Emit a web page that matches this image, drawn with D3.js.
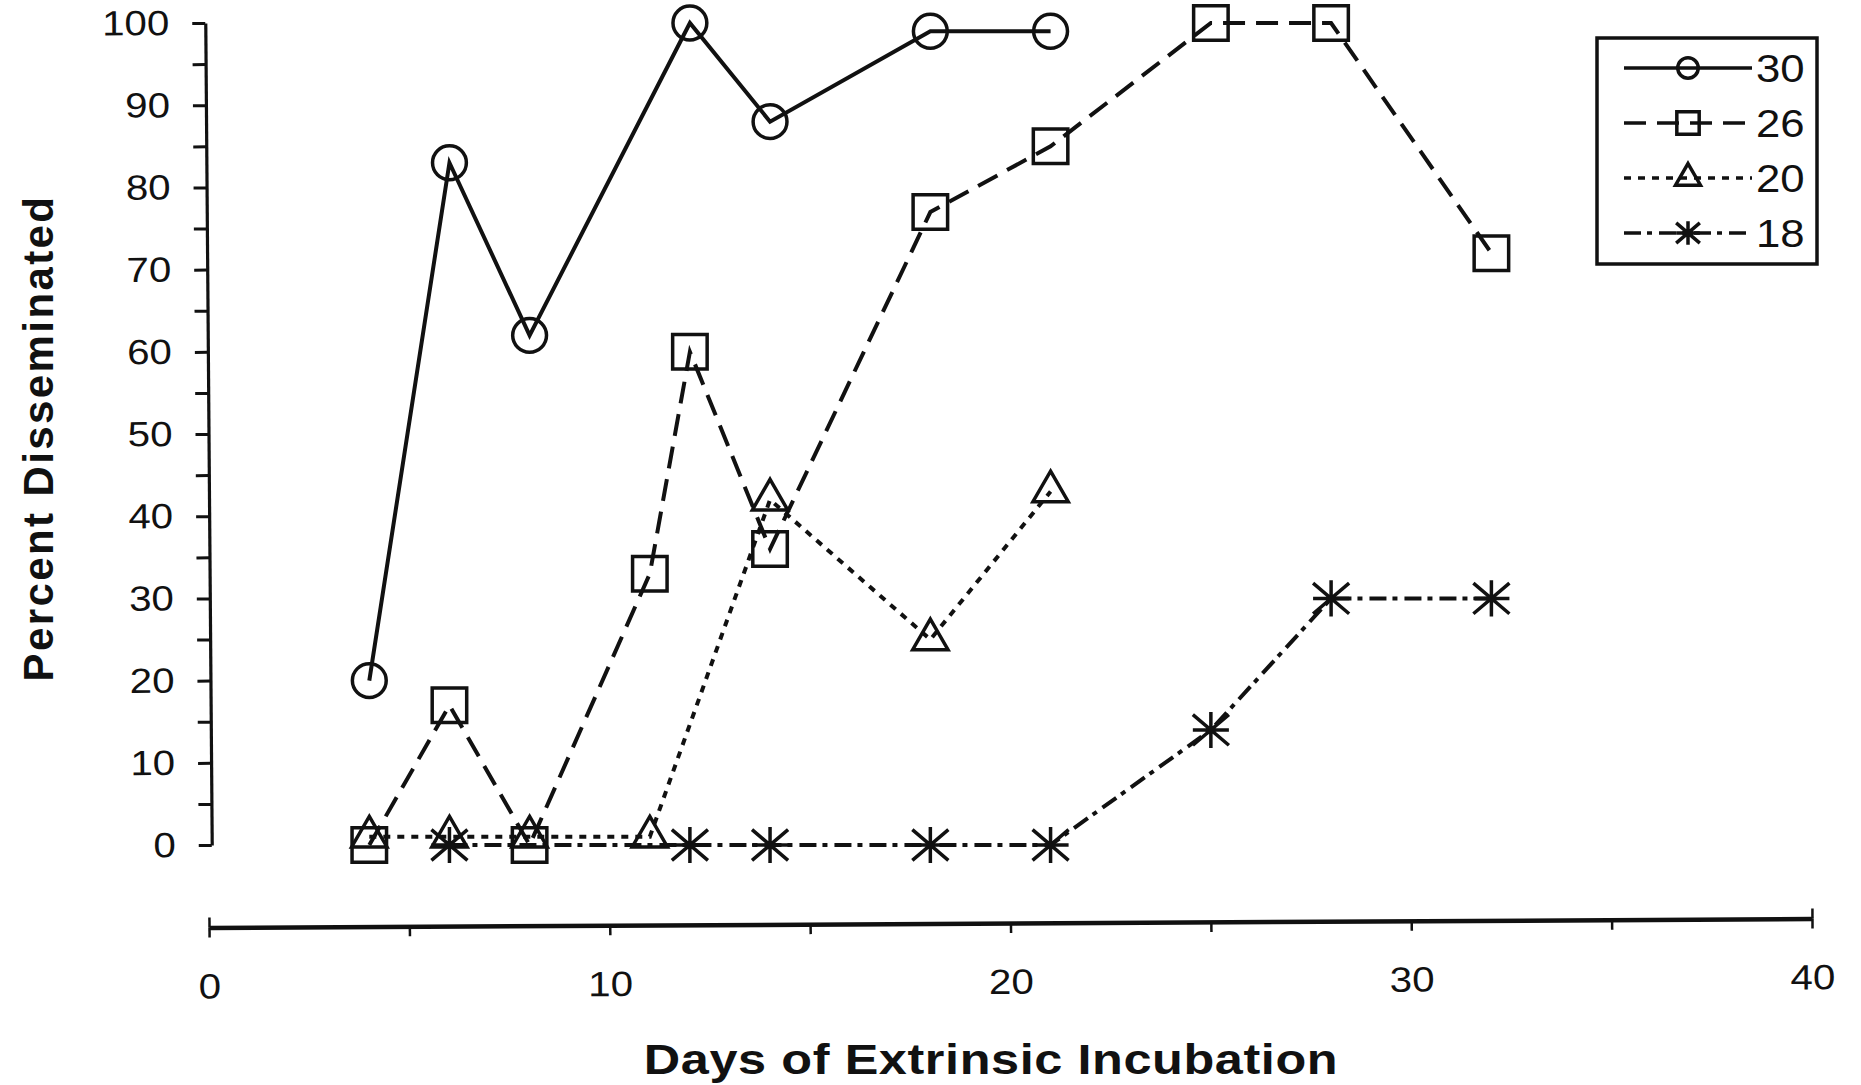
<!DOCTYPE html>
<html>
<head>
<meta charset="utf-8">
<script src="https://cdn.jsdelivr.net/npm/d3@7"></script>
<style>
  body { margin: 0; background: #fff; }
  text { font-family: "Liberation Sans", Arial, Helvetica, sans-serif; fill: #111; }
</style>
</head>
<body>
<div id="chart"></div>
<script>
const WIDTH = 1861;
const HEIGHT = 1085;

// legend labels (temperature groups)
const seriesNames = ["30", "26", "20", "18"];

const days30 = [4, 6, 8, 12, 14, 18, 21];
const pct30 = [20, 83, 62, 100, 88, 99, 99];

const days26 = [4, 6, 8, 11, 12, 14, 18, 21, 25, 28, 32];
const pct26 = [0, 17, 0, 33, 60, 36, 77, 85, 100, 100, 72];

const days20 = [4, 6, 8, 11, 14, 18, 21];
const pct20 = [1, 1, 1, 1, 42, 25, 43];

const days18 = [6, 12, 14, 18, 21, 25, 28, 32];
const pct18 = [0, 0, 0, 0, 0, 14, 30, 30];

const xTicks = [0, 5, 10, 15, 20, 25, 30, 35, 40];
const yTicks = [0, 5, 10, 15, 20, 25, 30, 35, 40, 45, 50, 55, 60, 65, 70, 75, 80, 85, 90, 95, 100];

const INK = "#111";
const STRETCH = 1.15; // the scanned lettering is wide

// asterisk marker for d3.symbol
const symbolAsterisk = {
  draw(context, size) {
    const r = Math.sqrt(size) / 2;
    context.moveTo(-r, -r * 0.85); context.lineTo(r, r * 0.85);
    context.moveTo(-r, r * 0.85); context.lineTo(r, -r * 0.85);
    context.moveTo(0, -r); context.lineTo(0, r);
    context.moveTo(-r, 0); context.lineTo(r, 0);
  }
};

const zip = (xs, ys) => xs.map((d, i) => [d, ys[i]]);

const series = [
  { name: seriesNames[0], data: zip(days30, pct30), symbol: d3.symbolCircle,   size: 900,  lsize: 330, dash: null },
  { name: seriesNames[1], data: zip(days26, pct26), symbol: d3.symbolSquare,   size: 1190, lsize: 500, dash: "22,11" },
  { name: seriesNames[2], data: zip(days20, pct20), symbol: d3.symbolTriangle, size: 540,  lsize: 270, dash: "7,7" },
  { name: seriesNames[3], data: zip(days18, pct18), symbol: symbolAsterisk,    size: 1300, lsize: 560, dash: "17,6,5,7" }
];

var svg = d3.select("div#chart").append("svg")
    .attr("width", WIDTH)
    .attr("height", HEIGHT)
    .style("display", "block")
    .style("background", "#fff");

var x = d3.scaleLinear([0, 40], [209, 1812]);
var y = d3.scaleLinear([0, 100], [845, 23]);

// y axis (slightly skewed like the scanned original)
var yAxisG = svg.append("g")
    .attr("transform", "translate(208.5,0) rotate(-0.45,0,434)")
    .call(d3.axisLeft(y)
        .tickValues(yTicks)
        .tickFormat(d => d % 10 === 0 ? d : "")
        .tickSize(13)
        .tickSizeOuter(0)
        .tickPadding(25));
yAxisG.select(".domain").attr("stroke", INK).attr("stroke-width", 3.2);
yAxisG.selectAll(".tick line").attr("stroke", INK).attr("stroke-width", 3);
yAxisG.selectAll(".tick text")
    .attr("x", 0)
    .attr("transform", `translate(-36,0) scale(${STRETCH},1)`)
    .style("font-size", "35px")
    .attr("fill", INK);

// x axis sits below the plot, detached from the y axis
var xAxisG = svg.append("g")
    .attr("transform", "translate(0,923) rotate(-0.32,1012,0)");
xAxisG.call(d3.axisBottom(x)
        .tickValues(xTicks)
        .tickFormat(d => d % 10 === 0 ? d : "")
        .tickSize(10)
        .tickSizeOuter(0)
        .tickPadding(36));
xAxisG.select(".domain").attr("stroke", INK).attr("stroke-width", 4.5);
xAxisG.selectAll(".tick line").attr("stroke", INK).attr("stroke-width", 2.5);
xAxisG.selectAll(".tick text")
    .attr("transform", `scale(${STRETCH},1)`)
    .style("font-size", "35px")
    .attr("fill", INK);

// end caps of the x axis reach above the line too
var xCaps = xAxisG.append("g")
    .call(d3.axisTop(x).tickValues([0, 40]).tickFormat("").tickSize(10).tickSizeOuter(0));
xCaps.select(".domain").remove();
xCaps.selectAll(".tick line").attr("stroke", INK).attr("stroke-width", 2.5);

// axis titles
svg.append("text")
    .attr("transform", "translate(53,438) rotate(-90)")
    .attr("text-anchor", "middle")
    .style("font-size", "42px")
    .style("font-weight", "bold")
    .style("letter-spacing", "2.4px")
    .text("Percent Disseminated");

svg.append("text")
    .attr("transform", "translate(991,1074) scale(1.2,1)")
    .attr("text-anchor", "middle")
    .style("font-size", "42px")
    .style("font-weight", "bold")
    .style("letter-spacing", "0.5px")
    .text("Days of Extrinsic Incubation");

const lineFunc = d3.line()
    .x(d => x(d[0]))
    .y(d => y(d[1]));

var plot = svg.append("g")
    .attr("fill", "none")
    .attr("stroke", INK);

var groups = plot.selectAll("g.series").data(series)
    .join("g")
    .attr("class", "series");

groups.append("path")
    .attr("d", s => lineFunc(s.data))
    .attr("stroke-width", 4)
    .attr("stroke-dasharray", s => s.dash);

groups.selectAll("path.marker")
    .data(s => s.data.map(p => ({ p: p, s: s })))
    .join("path")
    .attr("class", "marker")
    .attr("transform", d => `translate(${x(d.p[0])},${y(d.p[1])})`)
    .attr("d", d => d3.symbol(d.s.symbol, d.s.size)())
    .attr("stroke-width", 3.5);

// legend
const LEG = { X: 1597, Y: 38, W: 220, H: 226, ROW0: 68, STEP: 55 };

var legend = svg.append("g");
legend.append("rect")
    .attr("x", LEG.X)
    .attr("y", LEG.Y)
    .attr("width", LEG.W)
    .attr("height", LEG.H)
    .attr("fill", "none")
    .attr("stroke", INK)
    .attr("stroke-width", 3.5);

var rows = legend.selectAll("g.row").data(series)
    .join("g")
    .attr("class", "row")
    .attr("transform", (s, i) => `translate(0,${LEG.ROW0 + i * LEG.STEP})`);

rows.append("line")
    .attr("x1", 1624)
    .attr("x2", 1752)
    .attr("stroke", INK)
    .attr("stroke-width", 3.5)
    .attr("stroke-dasharray", s => s.dash);

rows.append("path")
    .attr("transform", "translate(1688,0)")
    .attr("d", s => d3.symbol(s.symbol, s.lsize)())
    .attr("fill", "none")
    .attr("stroke", INK)
    .attr("stroke-width", 3.5);

rows.append("text")
    .attr("transform", "translate(1756,14) scale(1.15,1)")
    .style("font-size", "38px")
    .text(s => s.name);
</script>
</body>
</html>
